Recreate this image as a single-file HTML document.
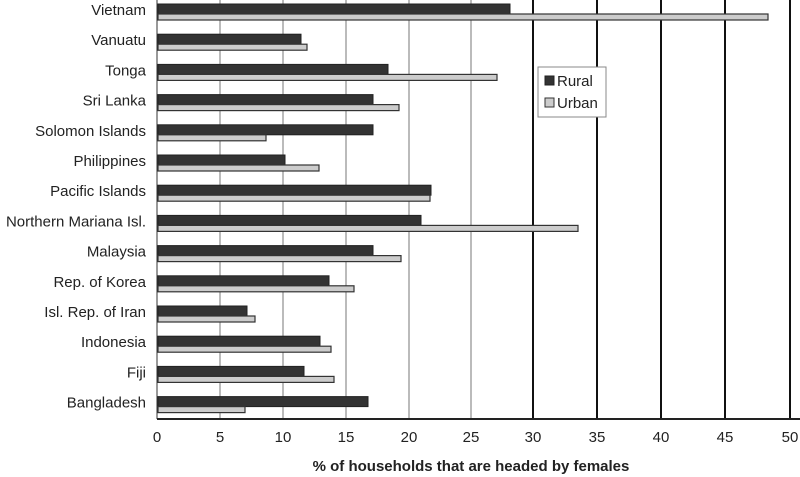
<!DOCTYPE html>
<html><head><meta charset="utf-8"><style>
html,body{margin:0;padding:0;background:#fff;}
svg{display:block;font-family:"Liberation Sans",Arial,sans-serif;}
</style></head><body>
<svg width="800" height="477" viewBox="0 0 800 477" xmlns="http://www.w3.org/2000/svg">
<rect width="800" height="477" fill="#fff"/>
<g stroke="#777" stroke-width="1">
<line x1="220" y1="0" x2="220" y2="419"/>
<line x1="283" y1="0" x2="283" y2="419"/>
<line x1="346" y1="0" x2="346" y2="419"/>
<line x1="409" y1="0" x2="409" y2="419"/>
<line x1="471" y1="0" x2="471" y2="419"/>
</g>
<g stroke="#111" stroke-width="2">
<line x1="533" y1="0" x2="533" y2="419"/>
<line x1="597" y1="0" x2="597" y2="419"/>
<line x1="661" y1="0" x2="661" y2="419"/>
<line x1="725" y1="0" x2="725" y2="419"/>
<line x1="790" y1="0" x2="790" y2="419"/>
</g>
<line x1="157" y1="0" x2="157" y2="419" stroke="#333" stroke-width="1"/>
<line x1="157" y1="419" x2="800" y2="419" stroke="#222" stroke-width="2"/>
<g fill="#333" stroke="#222" stroke-width="1">
<rect x="158" y="4" width="352" height="10"/>
<rect x="158" y="34.2" width="143" height="10"/>
<rect x="158" y="64.4" width="230" height="10"/>
<rect x="158" y="94.6" width="215" height="10"/>
<rect x="158" y="124.8" width="215" height="10"/>
<rect x="158" y="155" width="127" height="10"/>
<rect x="158" y="185.2" width="273" height="10"/>
<rect x="158" y="215.4" width="263" height="10"/>
<rect x="158" y="245.6" width="215" height="10"/>
<rect x="158" y="275.8" width="171" height="10"/>
<rect x="158" y="306" width="89" height="10"/>
<rect x="158" y="336.2" width="162" height="10"/>
<rect x="158" y="366.4" width="146" height="10"/>
<rect x="158" y="396.6" width="210" height="10"/>
</g>
<g fill="#ccc" stroke="#333" stroke-width="1.2">
<rect x="158" y="14" width="610" height="6"/>
<rect x="158" y="44.2" width="149" height="6"/>
<rect x="158" y="74.4" width="339" height="6"/>
<rect x="158" y="104.6" width="241" height="6"/>
<rect x="158" y="134.8" width="108" height="6"/>
<rect x="158" y="165" width="161" height="6"/>
<rect x="158" y="195.2" width="272" height="6"/>
<rect x="158" y="225.4" width="420" height="6"/>
<rect x="158" y="255.6" width="243" height="6"/>
<rect x="158" y="285.8" width="196" height="6"/>
<rect x="158" y="316" width="97" height="6"/>
<rect x="158" y="346.2" width="173" height="6"/>
<rect x="158" y="376.4" width="176" height="6"/>
<rect x="158" y="406.6" width="87" height="6"/>
</g>
<g font-size="15" fill="#222" text-anchor="end">
<text x="146" y="15">Vietnam</text>
<text x="146" y="45.2">Vanuatu</text>
<text x="146" y="75.4">Tonga</text>
<text x="146" y="105.6">Sri Lanka</text>
<text x="146" y="135.8">Solomon Islands</text>
<text x="146" y="166">Philippines</text>
<text x="146" y="196.2">Pacific Islands</text>
<text x="146" y="226.4">Northern Mariana Isl.</text>
<text x="146" y="256.6">Malaysia</text>
<text x="146" y="286.8">Rep. of Korea</text>
<text x="146" y="317">Isl. Rep. of Iran</text>
<text x="146" y="347.2">Indonesia</text>
<text x="146" y="377.4">Fiji</text>
<text x="146" y="407.6">Bangladesh</text>
</g>
<g font-size="15" fill="#222" text-anchor="middle">
<text x="157" y="442">0</text>
<text x="220" y="442">5</text>
<text x="283" y="442">10</text>
<text x="346" y="442">15</text>
<text x="409" y="442">20</text>
<text x="471" y="442">25</text>
<text x="533" y="442">30</text>
<text x="597" y="442">35</text>
<text x="661" y="442">40</text>
<text x="725" y="442">45</text>
<text x="790" y="442">50</text>
</g>
<text x="471" y="471" font-size="15" font-weight="bold" fill="#222" text-anchor="middle">% of households that are headed by females</text>
<rect x="538" y="67" width="68" height="50" fill="#fff" stroke="#888" stroke-width="1"/>
<rect x="545" y="76" width="9" height="9" fill="#333" stroke="#222"/>
<rect x="545" y="98" width="9" height="9" fill="#ccc" stroke="#333"/>
<text x="557" y="86" font-size="15" fill="#222">Rural</text>
<text x="557" y="108" font-size="15" fill="#222">Urban</text>
</svg>
</body></html>
